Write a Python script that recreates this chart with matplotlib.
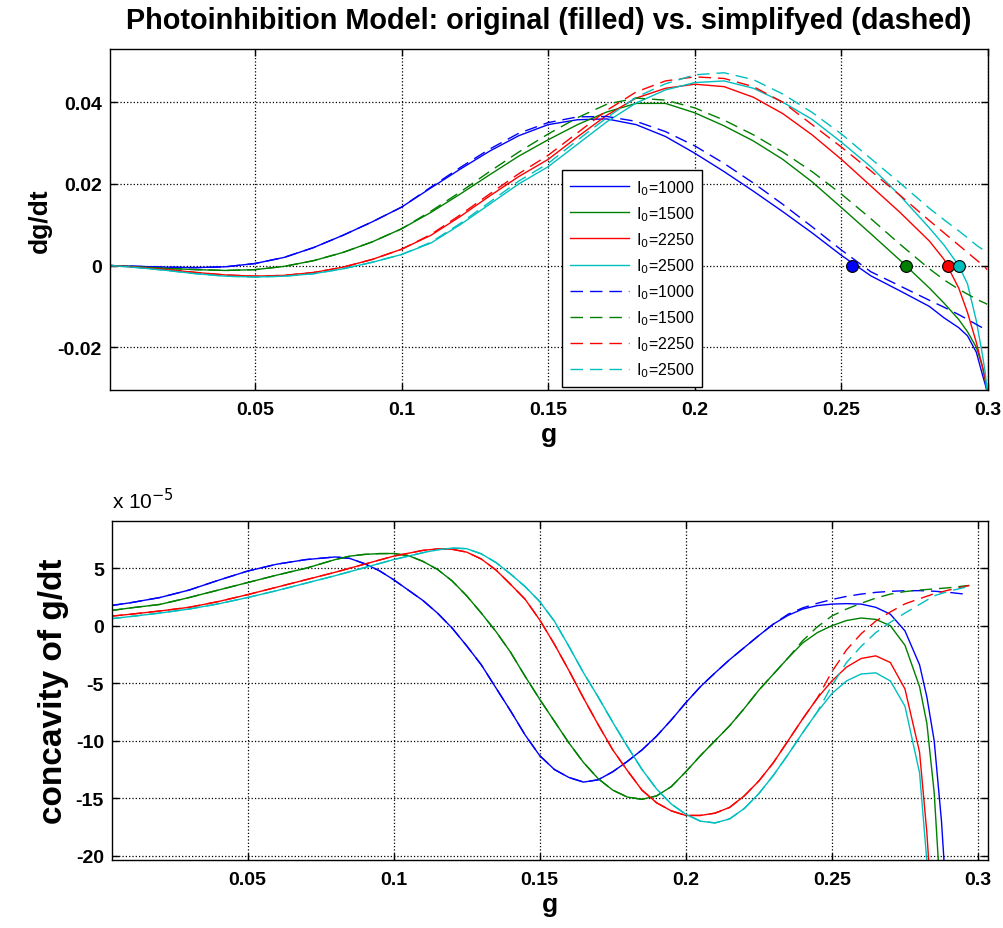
import numpy as np
import matplotlib
matplotlib.use("Agg")
import matplotlib.pyplot as plt

plt.rcParams['font.family'] = ['Liberation Sans', 'DejaVu Sans']
plt.rcParams['axes.unicode_minus'] = False

# ---------------- top panel: dg/dt (units of 0.01) ----------------
g_top = [0.001, 0.01, 0.02, 0.03, 0.04, 0.05, 0.06, 0.07, 0.08, 0.09, 0.10,
         0.11, 0.12, 0.13, 0.14, 0.15, 0.16, 0.17, 0.18, 0.19, 0.20, 0.21,
         0.22, 0.23, 0.24, 0.25, 0.26, 0.27, 0.28, 0.285, 0.29, 0.293, 0.296,
         0.298, 0.299, 0.2997]

dg_1000 = [0, -0.02, -0.04, -0.05, -0.03, 0.05, 0.2, 0.44, 0.74, 1.07, 1.43,
           1.9, 2.36, 2.8, 3.18, 3.45, 3.57, 3.59, 3.45, 3.16, 2.75, 2.3,
           1.82, 1.32, 0.8, 0.25, -0.25, -0.62, -1.0, -1.28, -1.52, -1.72, -2.12,
           -2.65, -2.9, -3.1]
dg_1500 = [0, -0.03, -0.07, -0.1, -0.12, -0.1, -0.02, 0.12, 0.32, 0.58, 0.9,
           1.3, 1.75, 2.22, 2.68, 3.08, 3.45, 3.76, 3.97, 3.97, 3.74, 3.42,
           3.05, 2.6, 2.05, 1.42, 0.78, 0.13, -0.55, -0.92, -1.32, -1.62, -2.0,
           -2.45, -2.8, -3.1]
dg_2250 = [0, -0.04, -0.1, -0.17, -0.23, -0.26, -0.24, -0.17, -0.04, 0.15, 0.4,
           0.74, 1.2, 1.7, 2.18, 2.6, 3.15, 3.68, 4.1, 4.34, 4.44, 4.38,
           4.12, 3.72, 3.2, 2.6, 1.95, 1.3, 0.6, 0.15, -0.55, -1.15, -1.88,
           -2.45, -2.75, -3.1]
dg_2500 = [0, -0.05, -0.12, -0.2, -0.26, -0.28, -0.26, -0.2, -0.08, 0.08, 0.27,
           0.55, 1.0, 1.5, 2.0, 2.42, 2.97, 3.52, 3.98, 4.3, 4.48, 4.52,
           4.34, 4.0, 3.58, 3.02, 2.42, 1.71, 0.92, 0.5, 0.0, -0.45, -1.35,
           -2.15, -2.6, -3.1]

dgs_1000 = [0, -0.02, -0.04, -0.05, -0.03, 0.05, 0.2, 0.44, 0.74, 1.07, 1.43,
            1.92, 2.4, 2.85, 3.24, 3.5, 3.64, 3.65, 3.53, 3.28, 2.93, 2.5,
            2.02, 1.5, 0.95, 0.38, -0.15, -0.5, -0.85, -1.02, -1.2, -1.32, -1.44,
            -1.52, -1.56, -1.6]
dgs_1500 = [0, -0.03, -0.07, -0.1, -0.12, -0.1, -0.02, 0.12, 0.32, 0.58, 0.9,
            1.33, 1.8, 2.3, 2.78, 3.22, 3.62, 3.95, 4.1, 4.05, 3.86, 3.56,
            3.2, 2.78, 2.3, 1.75, 1.15, 0.52, -0.08, -0.35, -0.58, -0.7, -0.82,
            -0.89, -0.92, -0.95]
dgs_2250 = [0, -0.04, -0.1, -0.17, -0.23, -0.26, -0.24, -0.17, -0.04, 0.15, 0.4,
            0.76, 1.24, 1.75, 2.25, 2.7, 3.25, 3.8, 4.25, 4.52, 4.62, 4.58,
            4.38, 4.0, 3.45, 2.9, 2.32, 1.72, 1.1, 0.8, 0.5, 0.32, 0.14,
            0.02, -0.04, -0.1]
dgs_2500 = [0, -0.05, -0.12, -0.2, -0.26, -0.28, -0.26, -0.2, -0.08, 0.08, 0.27,
            0.57, 1.03, 1.55, 2.07, 2.5, 3.07, 3.62, 4.12, 4.45, 4.67, 4.72,
            4.55, 4.2, 3.75, 3.22, 2.62, 2.02, 1.4, 1.12, 0.85, 0.68, 0.5,
            0.4, 0.35, 0.32]

# equilibrium points (dg/dt = 0)
g_eq = [0.2535, 0.272, 0.2864, 0.290]

# ---------------- bottom panel: concavity (units of 1e-5) ----------------
g_bot = [0.003, 0.01, 0.02, 0.03, 0.04, 0.05, 0.06, 0.07, 0.08, 0.085, 0.09,
         0.095, 0.10, 0.105, 0.11, 0.115, 0.12, 0.125, 0.13, 0.135, 0.14, 0.145,
         0.15, 0.155, 0.16, 0.165, 0.17, 0.175, 0.18, 0.185, 0.19, 0.195, 0.20,
         0.205, 0.21, 0.215, 0.22, 0.225, 0.23, 0.235, 0.24, 0.245, 0.25, 0.255,
         0.26, 0.265, 0.27]
g_tail = [0.275, 0.28, 0.2825, 0.285, 0.2875, 0.29]
g_tail_s = [0.275, 0.28, 0.285, 0.29, 0.295, 0.297]

cc_1000 = [1.74, 2.0, 2.45, 3.1, 3.95, 4.75, 5.35, 5.75, 5.98, 5.85, 5.4,
           4.8, 4.0, 3.1, 2.2, 1.1, -0.2, -1.75, -3.4, -5.4, -7.4, -9.5,
           -11.3, -12.5, -13.2, -13.6, -13.4, -12.7, -11.8, -10.8, -9.6, -8.2, -6.7,
           -5.3, -4.1, -2.95, -1.9, -0.85, 0.15, 0.9, 1.45, 1.75, 1.88, 1.92,
           1.88, 1.6, 1.0]
cc_1500 = [1.31, 1.55, 1.85, 2.45, 3.1, 3.75, 4.4, 5.0, 5.75, 6.05, 6.2,
           6.27, 6.28, 6.1, 5.6, 4.9, 3.9, 2.6, 1.1, -0.5, -2.3, -4.4,
           -6.4, -8.3, -10.2, -11.9, -13.3, -14.3, -14.9, -15.1, -14.8, -14.0, -12.7,
           -11.3, -10.0, -8.7, -7.2, -5.6, -4.2, -2.8, -1.5, -0.6, 0.0, 0.45,
           0.67, 0.55, 0.0]
cc_2250 = [0.82, 1.0, 1.28, 1.6, 2.1, 2.7, 3.35, 4.0, 4.65, 5.0, 5.35,
           5.7, 6.05, 6.3, 6.55, 6.68, 6.65, 6.4, 5.8, 4.85, 3.6, 2.3,
           0.5, -1.6, -3.9, -6.3, -8.6, -10.8, -12.6, -14.3, -15.4, -16.1, -16.5,
           -16.5, -16.3, -15.8, -14.8, -13.5, -11.9, -10.0, -8.1, -6.3, -4.8, -3.6,
           -2.85, -2.62, -3.2]
cc_2500 = [0.6, 0.8, 1.1, 1.45, 1.9, 2.45, 3.05, 3.7, 4.35, 4.7, 5.05,
           5.4, 5.75, 6.05, 6.35, 6.6, 6.75, 6.7, 6.25, 5.5, 4.5, 3.4,
           2.1, 0.4, -1.8, -4.1, -6.2, -8.4, -10.5, -12.5, -14.2, -15.5, -16.4,
           -17.0, -17.15, -16.8, -15.9, -14.6, -13.0, -11.2, -9.3, -7.5, -5.9, -4.8,
           -4.2, -4.1, -4.8]

tail_1000 = [-0.45, -3.4, -6.2, -10.0, -17.0, -27.0]
tail_1500 = [-1.7, -5.3, -8.5, -14.5, -25.0, -35.0]
tail_2250 = [-5.5, -11.0, -18.0, -28.0, -38.0, -48.0]
tail_2500 = [-7.0, -12.8, -20.5, -30.0, -40.0, -50.0]

# simplified model: same as original up to index, then its own values
ccs_1000_start, ccs_1000 = 39, [1.0, 1.55, 1.95, 2.28, 2.55, 2.75, 2.9, 2.99]
ccs_1500_start, ccs_1500 = 40, [-1.3, -0.1, 0.85, 1.45, 1.95, 2.4, 2.75]
ccs_2250_start, ccs_2250 = 42, [-4.0, -2.1, -0.7, 0.4, 1.2]
ccs_2500_start, ccs_2500 = 42, [-5.2, -3.2, -1.8, -0.6, 0.3]
tails_1000 = [3.04, 3.05, 3.0, 2.9, 2.76, 2.72]
tails_1500 = [2.97, 3.1, 3.2, 3.3, 3.45, 3.5]
tails_2250 = [1.9, 2.35, 2.78, 3.1, 3.38, 3.5]
tails_2500 = [1.1, 1.85, 2.6, 3.0, 3.3, 3.4]

labels = ['1000', '1500', '2250', '2500']
colors = ['#0000ff', '#008000', '#ff0000', '#00bfbf']

fig = plt.figure(figsize=(10.04, 9.29), dpi=100)
ax1 = fig.add_axes([0.1096, 0.5794, 0.8745, 0.3667])
ax2 = fig.add_axes([0.1118, 0.0735, 0.8725, 0.3649])

g_top = np.array(g_top)
solids = [dg_1000, dg_1500, dg_2250, dg_2500]
dashes = [dgs_1000, dgs_1500, dgs_2250, dgs_2500]
for vals, c, lab in zip(solids, colors, labels):
    ax1.plot(g_top, np.array(vals) * 0.01, '-', color=c, lw=1.0, label=r'I$_0$=' + lab)
for vals, c, lab in zip(dashes, colors, labels):
    ax1.plot(g_top, np.array(vals) * 0.01, '--', color=c, lw=1.0, dashes=(9, 5),
             label=r'I$_0$=' + lab)
for ge, c in zip(g_eq, colors):
    ax1.plot(ge, 0, 'o', ms=8.5, mfc=c, mec='black', mew=0.8, zorder=5)

ax1.set_xlim(0.0006, 0.3)
ax1.set_ylim(-0.0304, 0.053)
ax1.set_xticks([0.05, 0.1, 0.15, 0.2, 0.25, 0.3])
ax1.set_xticklabels(['0.05', '0.1', '0.15', '0.2', '0.25', '0.3'])
ax1.set_yticks([-0.02, 0, 0.02, 0.04])
ax1.set_yticklabels(['-0.02', '0', '0.02', '0.04'])
ax1.set_xlabel('g', fontsize=19, fontweight='bold', labelpad=3)
ax1.set_ylabel('dg/dt', fontsize=19, fontweight='bold', labelpad=4)
ax1.set_title('Photoinhibition Model: original (filled) vs. simplifyed (dashed)',
              fontsize=20.8, fontweight='bold', pad=15)
leg = ax1.legend(loc='upper left', bbox_to_anchor=(0.515, 0.645), fontsize=11.5,
                 handlelength=3.7, handletextpad=0.4, labelspacing=0.46,
                 borderpad=0.5, borderaxespad=0, fancybox=False, framealpha=1,
                 edgecolor='black')
leg.get_frame().set_linewidth(1.0)

g_bot = np.array(g_bot)
bots = [cc_1000, cc_1500, cc_2250, cc_2500]
tails = [tail_1000, tail_1500, tail_2250, tail_2500]
simp = [(ccs_1000_start, ccs_1000, tails_1000), (ccs_1500_start, ccs_1500, tails_1500),
        (ccs_2250_start, ccs_2250, tails_2250), (ccs_2500_start, ccs_2500, tails_2500)]
for vals, tl, c in zip(bots, tails, colors):
    ax2.plot(np.r_[g_bot, g_tail], np.r_[vals, tl], '-', color=c, lw=1.0)
for (st, sv, stl), vals, c in zip(simp, bots, colors):
    gx = np.r_[g_bot[:st], g_bot[st:st + len(sv)], g_tail_s]
    yv = np.r_[vals[:st], sv, stl]
    ax2.plot(gx, yv, '--', color=c, lw=1.0, dashes=(9, 5))

ax2.set_xlim(0.0037, 0.3035)
ax2.set_ylim(-20.35, 9.13)
ax2.set_xticks([0.05, 0.1, 0.15, 0.2, 0.25, 0.3])
ax2.set_xticklabels(['0.05', '0.1', '0.15', '0.2', '0.25', '0.3'])
ax2.set_yticks([-20, -15, -10, -5, 0, 5])
ax2.set_xlabel('g', fontsize=19, fontweight='bold', labelpad=3)
ax2.set_ylabel('concavity of g/dt', fontsize=24, fontweight='bold', labelpad=5)
ax2.text(0.0, 1.025, r'x 10$^{-5}$', transform=ax2.transAxes, fontsize=15,
         ha='left', va='bottom')

for ax in (ax1, ax2):
    ax.grid(True, linestyle=':', color='black', linewidth=0.9)
    ax.tick_params(direction='in', top=True, right=True, length=5, width=1,
                   labelsize=14)
    ax.tick_params(axis='x', pad=8)
    ax.tick_params(axis='y', pad=6)
    for lbl in ax.get_xticklabels() + ax.get_yticklabels():
        lbl.set_fontweight('bold')
    for sp in ax.spines.values():
        sp.set_linewidth(1.0)

fig.savefig('out.png', dpi=100)
